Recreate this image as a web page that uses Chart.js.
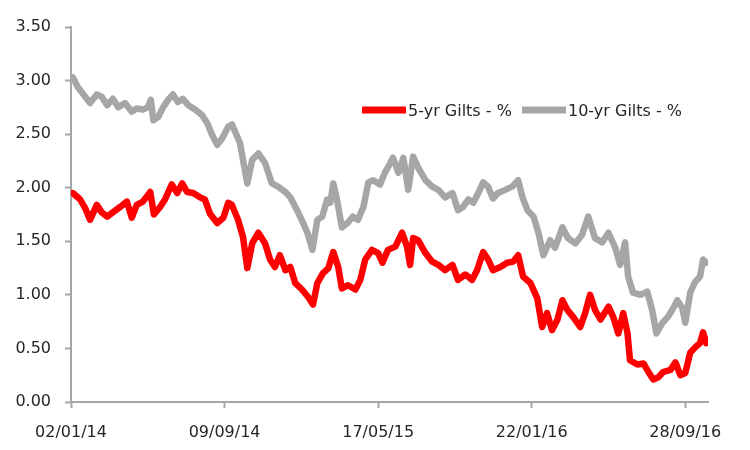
<!DOCTYPE html>
<html>
<head>
<meta charset="utf-8">
<script src="https://cdn.jsdelivr.net/npm/chart.js@4/dist/chart.umd.min.js"></script>
<style>
  html, body { margin: 0; padding: 0; background: #fff; }
  #wrap { width: 750px; height: 450px; }
</style>
</head>
<body>
<div id="wrap"><canvas id="gilts" width="750" height="450"></canvas></div>
<script>
// days counted from 02/01/14
const tickDays = [0, 250, 500, 750, 1000];
const tickLabels = ["02/01/14", "09/09/14", "17/05/15", "22/01/16", "28/09/16"];
const yTicks = [0, 0.5, 1, 1.5, 2, 2.5, 3, 3.5];

const fiveYrDays = [
  3, 15, 23, 31, 42, 50, 59, 68, 80, 91, 99, 107, 117, 129, 135, 145, 153, 164, 173, 181,
  189, 199, 210, 218, 226, 238, 248, 256, 262, 272, 280, 287, 295, 305, 316, 324, 332, 340,
  349, 357, 365, 376, 386, 394, 401, 410, 419, 427, 435, 441, 451, 463, 471, 479, 490, 500,
  507, 516, 528, 539, 547, 552, 557, 565, 577, 588, 598, 609, 621, 630, 642, 653, 661, 671,
  679, 687, 699, 710, 720, 728, 736, 748, 759, 767, 775, 783, 792, 800, 808, 818, 829, 837,
  845, 853, 862, 875, 883, 891, 899, 906, 910, 922, 932, 940, 948, 956, 964, 976, 984, 992,
  1000, 1008, 1016, 1024, 1029, 1034
];
const fiveYrValues = [
  1.95, 1.89, 1.81, 1.70, 1.84, 1.77, 1.73, 1.77, 1.82, 1.87, 1.72, 1.84, 1.87, 1.96, 1.75, 1.82, 1.89, 2.03, 1.95, 2.04,
  1.96, 1.95, 1.91, 1.89, 1.76, 1.67, 1.72, 1.86, 1.84, 1.70, 1.54, 1.25, 1.48, 1.58, 1.48, 1.33, 1.26, 1.37,
  1.23, 1.26, 1.11, 1.05, 0.98, 0.91, 1.11, 1.20, 1.25, 1.40, 1.26, 1.06, 1.09, 1.05, 1.14, 1.33, 1.42, 1.39,
  1.30, 1.42, 1.45, 1.58, 1.45, 1.28, 1.53, 1.51, 1.39, 1.31, 1.28, 1.23, 1.28, 1.14, 1.19, 1.14, 1.23, 1.40,
  1.33, 1.23, 1.26, 1.30, 1.31, 1.37, 1.17, 1.11, 0.97, 0.70, 0.83, 0.67, 0.77, 0.95, 0.86, 0.79, 0.70, 0.83,
  1.00, 0.86, 0.77, 0.89, 0.79, 0.64, 0.83, 0.64, 0.39, 0.35, 0.36, 0.28, 0.21, 0.23, 0.28, 0.30, 0.37, 0.25,
  0.27, 0.46, 0.51, 0.55, 0.65, 0.55
];

const tenYrDays = [
  3, 11, 23, 31, 42, 50, 59, 68, 77, 88, 99, 107, 117, 125, 130, 134, 142, 150, 158, 166,
  174, 182, 191, 202, 213, 222, 230, 238, 246, 256, 262, 275, 287, 295, 305, 316, 327, 337,
  349, 357, 368, 378, 386, 393, 401, 409, 417, 422, 427, 433, 441, 450, 459, 467, 476, 484,
  492, 503, 511, 516, 524, 533, 541, 549, 557, 565, 577, 588, 598, 609, 621, 630, 638, 647,
  655, 663, 671, 679, 687, 695, 707, 718, 728, 735, 743, 753, 761, 769, 780, 788, 800, 809,
  821, 832, 842, 853, 865, 875, 886, 894, 902, 907, 915, 927, 938, 946, 953, 963, 971, 979,
  987, 995, 1000, 1008, 1016, 1024, 1029, 1034
];
const tenYrValues = [
  3.03, 2.94, 2.85, 2.79, 2.87, 2.85, 2.77, 2.83, 2.75, 2.79, 2.71, 2.74, 2.73, 2.75, 2.82, 2.63, 2.66, 2.75, 2.82, 2.87,
  2.80, 2.83, 2.77, 2.73, 2.68, 2.60, 2.49, 2.40, 2.46, 2.57, 2.59, 2.42, 2.04, 2.26, 2.32, 2.23, 2.04, 2.01,
  1.96, 1.91, 1.79, 1.67, 1.56, 1.42, 1.70, 1.73, 1.89, 1.86, 2.04, 1.89, 1.63, 1.67, 1.73, 1.70, 1.82, 2.05,
  2.07, 2.03, 2.14, 2.19, 2.28, 2.14, 2.28, 1.98, 2.29, 2.19, 2.07, 2.01, 1.98, 1.91, 1.95, 1.79, 1.82, 1.89,
  1.86, 1.95, 2.05, 2.01, 1.90, 1.95, 1.98, 2.01, 2.07, 1.91, 1.79, 1.73, 1.58, 1.37, 1.51, 1.44, 1.63, 1.53,
  1.48, 1.56, 1.73, 1.53, 1.49, 1.58, 1.44, 1.28, 1.49, 1.17, 1.02, 1.00, 1.03, 0.86, 0.64, 0.74, 0.79, 0.86,
  0.95, 0.88, 0.74, 1.02, 1.12, 1.17, 1.33, 1.30
];

const RED = "#ff0000";
const GREY = "#a6a6a6";
const AXIS = "#a6a6a6";
const TEXT = "#262626";

Chart.defaults.font.family = "'DejaVu Sans', sans-serif";
Chart.defaults.font.size = 16;
Chart.defaults.color = TEXT;

function toPoints(days, values) {
  return days.map((d, i) => ({ x: d, y: values[i] }));
}

function lineSet(label, days, values, color) {
  return {
    label,
    data: toPoints(days, values),
    borderColor: color,
    backgroundColor: color,
    borderWidth: 6.5,
    pointRadius: 0,
    tension: 0,
    borderJoinStyle: "round",
    borderCapStyle: "round",
    fill: false,
  };
}

// legend sits inside the plot, drawn by hand
const insideLegend = {
  id: "insideLegend",
  afterDraw(chart) {
    const ctx = chart.ctx;
    const starts = [362, 522];
    ctx.save();
    ctx.font = "16px 'DejaVu Sans', sans-serif";
    ctx.textBaseline = "middle";
    chart.data.datasets.forEach((ds, i) => {
      const x = starts[i], y = 110;
      ctx.strokeStyle = ds.borderColor;
      ctx.lineWidth = 7;
      ctx.lineCap = "butt";
      ctx.beginPath();
      ctx.moveTo(x, y);
      ctx.lineTo(x + 44, y);
      ctx.stroke();
      ctx.fillStyle = TEXT;
      ctx.fillText(ds.label, x + 46, y + 2);
    });
    ctx.restore();
  },
};

new Chart(document.getElementById("gilts"), {
  type: "line",
  data: {
    datasets: [
      lineSet("5-yr Gilts - %", fiveYrDays, fiveYrValues, RED),
      lineSet("10-yr Gilts - %", tenYrDays, tenYrValues, GREY),
    ],
  },
  options: {
    responsive: false,
    animation: false,
    layout: { padding: { top: 27, right: 42, bottom: 0, left: 0 } },
    plugins: { legend: { display: false }, tooltip: { enabled: false } },
    scales: {
      x: {
        type: "linear",
        min: 0,
        max: 1037,
        afterBuildTicks: (s) => { s.ticks = tickDays.map(v => ({ value: v })); },
        afterFit: (s) => { s.height = 48; },
        ticks: {
          autoSkip: false,
          maxRotation: 0,
          padding: 15,
          callback: (v) => tickLabels[tickDays.indexOf(v)],
        },
        grid: { drawOnChartArea: false, drawTicks: true, tickLength: 6, tickColor: AXIS, tickWidth: 2 },
        border: { display: true, color: AXIS, width: 2 },
      },
      y: {
        min: 0,
        max: 3.5,
        afterBuildTicks: (s) => { s.ticks = yTicks.map(v => ({ value: v })); },
        afterFit: (s) => { s.width = 71; },
        ticks: { padding: 14, callback: (v) => Number(v).toFixed(2) },
        grid: { drawOnChartArea: false, drawTicks: true, tickLength: 6, tickColor: AXIS, tickWidth: 2 },
        border: { display: true, color: AXIS, width: 2 },
      },
    },
  },
  plugins: [insideLegend],
});
</script>
</body>
</html>
